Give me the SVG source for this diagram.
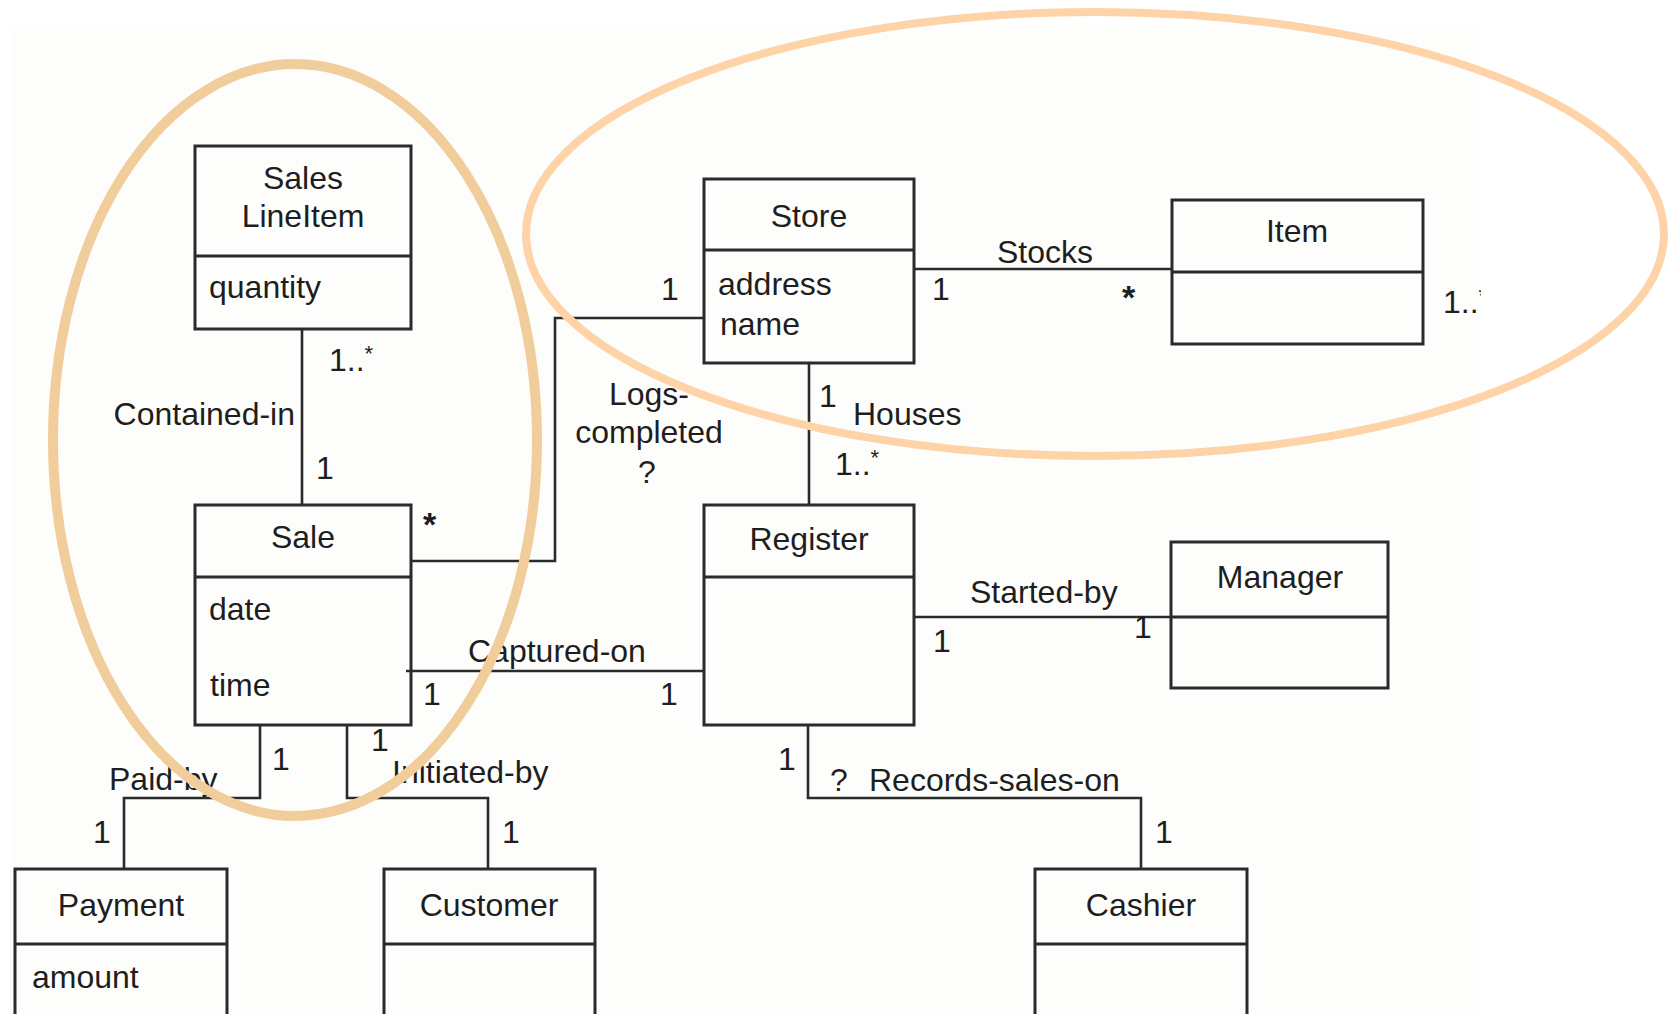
<svg xmlns="http://www.w3.org/2000/svg" width="1672" height="1014" viewBox="0 0 1672 1014">
  <style>
    .box { fill: none; stroke: #2b2b2b; stroke-width: 3; }
    .div { stroke: #2b2b2b; stroke-width: 3; }
    .wire { fill: none; stroke: #2b2b2b; stroke-width: 2.6; }
    text { font-family: "Liberation Sans", Arial, Helvetica, sans-serif; font-size: 32px; fill: #1e1e1e; }
    .c { text-anchor: middle; }
    .sup { font-size: 22px; }
    .star { font-weight: bold; font-size: 34px; }
    .ring { fill: none; }
  </style>
  <defs>
    <clipPath id="edgeClip">
      <rect x="0" y="0" width="1481" height="1014"/>
    </clipPath>
  </defs>

  <rect x="0" y="0" width="1672" height="1014" fill="#ffffff"/>
  <rect x="10" y="25" width="1471" height="989" fill="#fdfdfc"/>

  <!-- associations -->
  <g id="connectors">
    <path class="wire" d="M302 329 V505"/>
    <path class="wire" d="M411 561 H555 V318 H704"/>
    <path class="wire" d="M914 269 H1172"/>
    <path class="wire" d="M809 363 V505"/>
    <path class="wire" d="M406 671 H704"/>
    <path class="wire" d="M914 617 H1171"/>
    <path class="wire" d="M260 725 V798 H124 V869"/>
    <path class="wire" d="M347 725 V798 H488 V869"/>
    <path class="wire" d="M808 725 V798 H1141 V869"/>

    <!-- Contained-in -->
    <text x="329" y="371">1..<tspan class="sup" dy="-10">*</tspan></text>
    <text x="295" y="425" text-anchor="end">Contained-in</text>
    <text x="316" y="479">1</text>

    <!-- Logs-completed -->
    <text class="star" x="423" y="536">*</text>
    <text x="661" y="300">1</text>
    <text class="c" x="649" y="405">Logs-</text>
    <text class="c" x="649" y="443">completed</text>
    <text class="c" x="647" y="483">?</text>

    <!-- Stocks -->
    <text x="997" y="263">Stocks</text>
    <text x="932" y="300">1</text>
    <text class="star" x="1122" y="309">*</text>
    <text x="1443" y="313" clip-path="url(#edgeClip)">1..<tspan class="sup" dy="-10">*</tspan></text>

    <!-- Houses -->
    <text x="819" y="407">1</text>
    <text x="853" y="425">Houses</text>
    <text x="835" y="475">1..<tspan class="sup" dy="-10">*</tspan></text>

    <!-- Captured-on -->
    <text x="468" y="662">Captured-on</text>
    <text x="423" y="705">1</text>
    <text x="660" y="705">1</text>

    <!-- Started-by -->
    <text x="970" y="603">Started-by</text>
    <text x="933" y="652">1</text>
    <text x="1134" y="638">1</text>

    <!-- Paid-by -->
    <text x="109" y="790">Paid-by</text>
    <text x="272" y="770">1</text>
    <text x="93" y="843">1</text>

    <!-- Initiated-by -->
    <text x="371" y="751">1</text>
    <text x="392" y="783">Initiated-by</text>
    <text x="502" y="843">1</text>

    <!-- Records-sales-on -->
    <text x="778" y="770">1</text>
    <text x="830" y="791">?</text>
    <text x="869" y="791">Records-sales-on</text>
    <text x="1155" y="843">1</text>
  </g>

  <!-- classes -->
  <g id="SalesLineItem">
    <rect class="box" x="195" y="146" width="216" height="183"/>
    <line class="div" x1="195" y1="256" x2="411" y2="256"/>
    <text class="c" x="303" y="189">Sales</text>
    <text class="c" x="303" y="227">LineItem</text>
    <text x="209" y="298">quantity</text>
  </g>

  <g id="Sale">
    <rect class="box" x="195" y="505" width="216" height="220"/>
    <line class="div" x1="195" y1="577" x2="411" y2="577"/>
    <text class="c" x="303" y="548">Sale</text>
    <text x="209" y="620">date</text>
    <text x="210" y="696">time</text>
  </g>

  <g id="Store">
    <rect class="box" x="704" y="179" width="210" height="184"/>
    <line class="div" x1="704" y1="250" x2="914" y2="250"/>
    <text class="c" x="809" y="227">Store</text>
    <text x="718" y="295">address</text>
    <text x="720" y="335">name</text>
  </g>

  <g id="Item">
    <rect class="box" x="1172" y="200" width="251" height="144"/>
    <line class="div" x1="1172" y1="272" x2="1423" y2="272"/>
    <text class="c" x="1297" y="242">Item</text>
  </g>

  <g id="Register">
    <rect class="box" x="704" y="505" width="210" height="220"/>
    <line class="div" x1="704" y1="577" x2="914" y2="577"/>
    <text class="c" x="809" y="550">Register</text>
  </g>

  <g id="Manager">
    <rect class="box" x="1171" y="542" width="217" height="146"/>
    <line class="div" x1="1171" y1="617" x2="1388" y2="617"/>
    <text class="c" x="1280" y="588">Manager</text>
  </g>

  <g id="Payment">
    <rect class="box" x="15" y="869" width="212" height="170"/>
    <line class="div" x1="15" y1="944" x2="227" y2="944"/>
    <text class="c" x="121" y="916">Payment</text>
    <text x="32" y="988">amount</text>
  </g>

  <g id="Customer">
    <rect class="box" x="384" y="869" width="211" height="170"/>
    <line class="div" x1="384" y1="944" x2="595" y2="944"/>
    <text class="c" x="489" y="916">Customer</text>
  </g>

  <g id="Cashier">
    <rect class="box" x="1035" y="869" width="212" height="170"/>
    <line class="div" x1="1035" y1="944" x2="1247" y2="944"/>
    <text class="c" x="1141" y="916">Cashier</text>
  </g>

  <!-- highlight rings drawn over the diagram -->
  <g id="highlights">
    <ellipse class="ring" cx="295" cy="440" rx="242" ry="376" stroke="#f2cd9c" stroke-width="10"/>
    <ellipse class="ring" cx="1095" cy="234" rx="569" ry="222" stroke="#fdd3a7" stroke-width="8"/>
  </g>
</svg>
